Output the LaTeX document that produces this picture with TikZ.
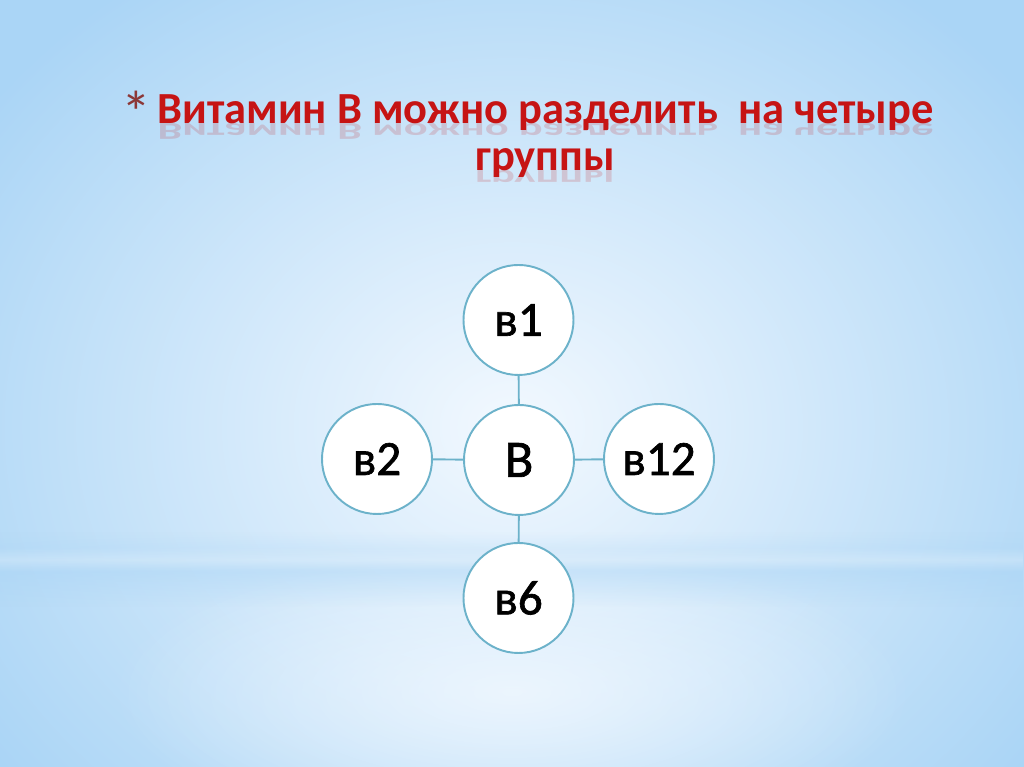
\documentclass[tikz,border=0pt]{standalone}
\usepackage{fontspec}
\setmainfont{Carlito}
\newfontfamily\cerclefont[FakeBold=1.3]{Carlito}
\usetikzlibrary{fadings}
\definecolor{fond}{RGB}{170,213,246}
\definecolor{fondclair}{RGB}{243,249,255}
\definecolor{titre}{RGB}{198,20,20}
\definecolor{etoile}{RGB}{140,55,55}
\definecolor{cercle}{RGB}{108,178,202}
\tikzfading[name=halo, inner color=transparent!0, outer color=transparent!100]
\tikzfading[name=bande, top color=transparent!100, bottom color=transparent!100, middle color=transparent!30]
\tikzset{
  vit/.style={circle, draw=cercle, line width=1.1pt, fill=white, minimum size=2.2cm, inner sep=0pt, font=\cerclefont\fontsize{28}{30}\selectfont},
  lien/.style={draw=cercle, line width=1.1pt},
  titrefont/.style={font=\fontsize{25.3}{28}\selectfont\bfseries, text=titre, inner sep=0pt, anchor=base}
}
\begin{document}
\begin{tikzpicture}[scale=1]
%fond
\useasboundingbox (0,0) rectangle (20.48,15.34);
\fill[fond] (0,0) rectangle (20.48,15.34);
\fill[fondclair, path fading=halo] (10.24,6.8) ellipse (13 and 11);
\fill[fondclair, opacity=0.8, path fading=halo] (10.24,1.5) ellipse (8 and 3);
\fill[fond, opacity=0.7, path fading=bande] (0,3.2) rectangle (20.48,4.7);
\fill[white, opacity=0.35, path fading=bande] (0,3.9) rectangle (20.48,4.4);
%fin
%titre
\node[font=\fontsize{34}{36}\selectfont, text=etoile, inner sep=0pt, anchor=base west] (ast) at (2.42,12.66) {*};
\node[titrefont] (l1) at (10.91,12.86) {Витамин В можно разделить\ \ на четыре};
\node[titrefont] (l2) at (10.9,11.92) {группы};
%reflet
\begin{scope}
\clip (0,12.5) rectangle (20.48,12.86);
\node[titrefont, opacity=0.17, yscale=-0.55, transform shape] (r1) at (10.91,12.86) {Витамин В можно разделить\ \ на четыре};
\end{scope}
\begin{scope}
\clip (0,11.56) rectangle (20.48,11.92);
\node[titrefont, opacity=0.17, yscale=-0.55, transform shape] (r2) at (10.9,11.92) {группы};
\end{scope}
%fin
%cercles
\node[vit, font=\cerclefont\fontsize{30}{32}\selectfont] (b) at (10.38,6.14) {В};
\node[vit] (b1) at (10.37,8.94) {в1};
\node[vit] (b2) at (7.54,6.16) {в2};
\node[vit] (b12) at (13.18,6.16) {в12};
\node[vit] (b6) at (10.37,3.38) {в6};
\draw[lien] (b) -- (b1);
\draw[lien] (b) -- (b2);
\draw[lien] (b) -- (b12);
\draw[lien] (b) -- (b6);
\end{tikzpicture}
\end{document}
